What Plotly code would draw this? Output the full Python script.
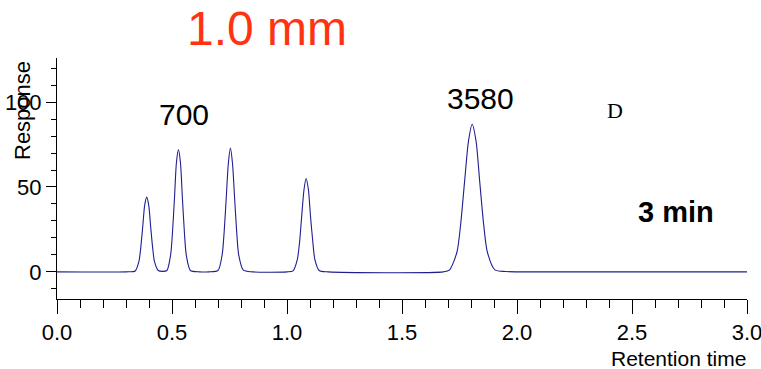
import plotly.graph_objects as go

# Chromatogram samples (retention time, response)
time = [0.0, 0.30, 0.34, 0.356, 0.364, 0.373, 0.381, 0.390, 0.399, 0.407, 0.416, 0.424, 0.44,
        0.46, 0.478, 0.494, 0.502, 0.511, 0.519, 0.528, 0.537, 0.545, 0.554, 0.562, 0.58, 0.62,
        0.66, 0.70, 0.718, 0.727, 0.736, 0.745, 0.754, 0.763, 0.772, 0.781, 0.790, 0.81, 0.85,
        1.00, 1.026, 1.045, 1.055, 1.064, 1.074, 1.083, 1.093, 1.102, 1.112, 1.121, 1.14, 1.18,
        1.68, 1.706, 1.739, 1.755, 1.772, 1.789, 1.805, 1.822, 1.838, 1.855, 1.871, 1.904, 1.95, 2.0,
        3.0]
response = [0.0, 0.0, 0.5, 6, 14, 27, 39, 44, 39, 27, 14, 6, 0.8,
            0.3, 0.8, 10, 23, 44, 64, 72, 64, 44, 23, 10, 0.8, 0.0,
            0.0, 0.8, 10, 24, 44, 64, 73, 64, 44, 24, 10, 1.0, 0.0,
            0.0, 0.6, 7.4, 18, 33, 48.5, 55, 48.5, 33, 18, 7.4, 0.8, 0.0,
            0.0, 1.0, 11.7, 28, 53, 77, 87, 77, 53, 28, 11.7, 1.2, 0.2, 0.0,
            0.0]

x_ticks = [0.0, 0.5, 1.0, 1.5, 2.0, 2.5, 3.0]
x_tick_labels = ["0.0", "0.5", "1.0", "1.5", "2.0", "2.5", "3.0"]
y_ticks = [0, 50, 100]
y_tick_labels = ["0", "50", "100"]

peak_labels = ["700", "3580"]
peak_label_pos = [(0.55, 93), (1.84, 102)]

W, H = 761, 369
ml, mr, mt, mb = 57, 14, 58, 70

fig = go.Figure()
fig.add_trace(go.Scatter(
    x=time, y=response, mode="lines",
    line=dict(color="#1f1f8f", width=1.1, shape="spline", smoothing=0.7),
    hoverinfo="skip", showlegend=False))

fig.update_layout(
    width=W, height=H,
    margin=dict(l=ml, r=mr, t=mt, b=mb, autoexpand=False),
    paper_bgcolor="white", plot_bgcolor="white",
    font=dict(family="Liberation Sans, Arial, sans-serif", color="black"),
    showlegend=False,
)

fig.update_xaxes(
    range=[0, 3.0], tickmode="array", tickvals=x_ticks, ticktext=x_tick_labels,
    ticks="outside", ticklen=14, tickwidth=1, tickcolor="black",
    showline=True, linecolor="black", linewidth=1, showgrid=False, zeroline=False,
    tickfont=dict(size=22), mirror=False, automargin=False, ticklabeloverflow="allow",
    minor=dict(ticks="outside", dtick=0.1, ticklen=8, tickcolor="black", showgrid=False),
)
fig.update_yaxes(
    range=[-16, 126], tickmode="array", tickvals=y_ticks, ticktext=y_tick_labels,
    ticks="outside", ticklen=10, tickwidth=1, tickcolor="black",
    showline=True, linecolor="black", linewidth=1, showgrid=False, zeroline=False,
    tickfont=dict(size=22), automargin=False, ticklabeloverflow="allow",
    minor=dict(ticks="outside", tickvals=list(range(-10, 121, 10)), ticklen=5,
               tickcolor="black", showgrid=False),
)

pw = W - ml - mr
ph = H - mt - mb

def px(xp):
    return (xp - ml) / pw

def py(yp):
    return (H - mb - yp) / ph

# Title
fig.add_annotation(text="1.0 mm", xref="paper", yref="paper", x=px(267), y=py(29),
                   showarrow=False, xanchor="center", yanchor="middle",
                   font=dict(size=48, color="#ff3311", family="Liberation Sans, Arial, sans-serif"))
# Axis titles
fig.add_annotation(text="Response", xref="paper", yref="paper", x=px(22), y=py(111),
                   showarrow=False, textangle=-90, xanchor="center", yanchor="middle",
                   font=dict(size=22))
fig.add_annotation(text="Retention time", xref="paper", yref="paper", x=px(748), y=py(358),
                   showarrow=False, xanchor="right", yanchor="middle",
                   font=dict(size=21))
# Peak labels
for t, (xv, yv) in zip(peak_labels, peak_label_pos):
    fig.add_annotation(text=t, x=xv, y=yv, showarrow=False, xanchor="center", yanchor="middle",
                       font=dict(size=30))
fig.add_annotation(text="D", x=2.425, y=95, showarrow=False, xanchor="center", yanchor="middle",
                   font=dict(size=22, family="Liberation Serif, Times New Roman, serif"))
fig.add_annotation(text="<b>3 min</b>", x=2.69, y=35, showarrow=False, xanchor="center",
                   yanchor="middle", font=dict(size=29))

fig.write_html("out.html")
